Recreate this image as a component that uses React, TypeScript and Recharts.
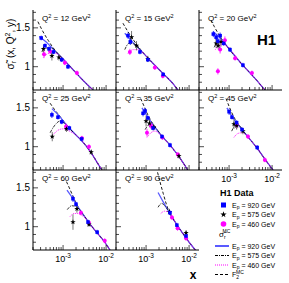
import React from "react";
import { ComposedChart, Line, Scatter, XAxis, YAxis, ErrorBar } from "recharts";

type Pt = [number, number, number];
type LP = [number, number];

const q2Values = [12, 15, 20, 25, 35, 45, 60, 90];

// H1 data, one list per Q2 bin: [x, sigma_r, error]
const data920: Pt[][] = [
  [[3.1e-4, 1.37, 0.03], [3.8e-4, 1.27, 0.03], [4.7e-4, 1.23, 0.03], [6e-4, 1.19, 0.03], [9.3e-4, 1.09, 0.03], [1.3e-3, 1.0, 0.03]],
  [[3.8e-4, 1.4, 0.04], [4.3e-4, 1.32, 0.04], [7.2e-4, 1.19, 0.03], [1.1e-3, 1.09, 0.03], [2.5e-3, 0.9, 0.03]],
  [[4.3e-4, 1.42, 0.04], [5e-4, 1.38, 0.04], [5.5e-4, 1.33, 0.04], [6.2e-4, 1.4, 0.04], [7.5e-4, 1.3, 0.03], [1.05e-3, 1.22, 0.03], [2.1e-3, 1.02, 0.03]],
  [[5.5e-4, 1.41, 0.04], [7.6e-4, 1.38, 0.03], [9.3e-4, 1.32, 0.03], [1.4e-3, 1.24, 0.03], [2.7e-3, 1.1, 0.03]],
  [[8.5e-4, 1.43, 0.04], [9.5e-4, 1.46, 0.04], [1.1e-3, 1.37, 0.03], [1.45e-3, 1.24, 0.03], [2.35e-3, 1.13, 0.03], [3.6e-3, 1.02, 0.03]],
  [[1e-3, 1.45, 0.04], [1.17e-3, 1.38, 0.03], [1.5e-3, 1.31, 0.03], [2e-3, 1.22, 0.03], [4.5e-3, 0.99, 0.03]],
  [[1.7e-3, 1.36, 0.04], [2e-3, 1.29, 0.03], [3.8e-3, 1.06, 0.03], [6.2e-3, 0.93, 0.03]],
  [[3.6e-3, 1.18, 0.03], [5.2e-3, 1.02, 0.03], [8.5e-3, 0.88, 0.03]],
];

const data575: Pt[][] = [
  [[3.5e-4, 1.23, 0.05], [5.5e-4, 1.14, 0.06], [8e-4, 1.12, 0.04]],
  [[4.6e-4, 1.38, 0.08], [6e-4, 1.27, 0.06], [1.1e-3, 1.1, 0.04]],
  [[5e-4, 1.3, 0.06], [5.6e-4, 1.27, 0.05], [6.5e-4, 1.32, 0.06]],
  [[5.6e-4, 1.13, 0.06], [1.2e-3, 1.23, 0.04], [4.5e-3, 0.93, 0.03]],
  [[1e-3, 1.33, 0.07], [1.2e-3, 1.3, 0.05], [1.5e-3, 1.25, 0.04], [5.8e-3, 0.88, 0.03]],
  [[1.3e-3, 1.29, 0.06], [1.5e-3, 1.27, 0.05], [2.1e-3, 1.2, 0.04]],
  [[1.7e-3, 1.06, 0.1], [2.1e-3, 1.23, 0.05], [4e-3, 1.03, 0.03]],
  [[3.5e-3, 1.19, 0.04], [8.5e-3, 0.92, 0.03]],
];

const data460: Pt[][] = [
  [[3.6e-4, 1.16, 0.05], [5e-4, 1.2, 0.04], [1.1e-3, 1.05, 0.03], [2.1e-3, 0.92, 0.03]],
  [[4.2e-4, 1.19, 0.04], [1.6e-3, 0.99, 0.03], [2.45e-3, 0.88, 0.03]],
  [[5.5e-4, 0.94, 0.04], [6.2e-4, 1.22, 0.05], [8e-4, 1.34, 0.05], [1.38e-3, 1.11, 0.03], [3.4e-3, 0.92, 0.03]],
  [[1.17e-3, 1.26, 0.04], [2.75e-3, 1.11, 0.03], [4e-3, 1.0, 0.03]],
  [[1.05e-3, 1.18, 0.05], [1.3e-3, 1.27, 0.04], [2.4e-3, 1.12, 0.03], [5.5e-3, 0.9, 0.03]],
  [[1.5e-3, 1.28, 0.05], [2.75e-3, 1.13, 0.03], [6.8e-3, 0.83, 0.03]],
  [[2.6e-3, 1.18, 0.03], [4e-3, 1.05, 0.03], [9.3e-3, 0.82, 0.03]],
  [[4e-3, 1.12, 0.03], [5.4e-3, 0.98, 0.03], [8.5e-3, 0.85, 0.03]],
];

// MC predictions: [x, sigma_r]
const mc920: LP[][] = [
  [[2.8e-4, 1.39], [4e-4, 1.32], [6e-4, 1.22], [1e-3, 1.1], [2e-3, 0.92], [3.5e-3, 0.78], [5e-3, 0.7]],
  [[3.2e-4, 1.43], [5e-4, 1.31], [7.5e-4, 1.21], [1.2e-3, 1.09], [2.5e-3, 0.91], [4.4e-3, 0.77], [5.5e-3, 0.7]],
  [[4.3e-4, 1.45], [6e-4, 1.38], [1e-3, 1.23], [2e-3, 1.03], [4e-3, 0.85], [6.8e-3, 0.7]],
  [[5.5e-4, 1.49], [8e-4, 1.4], [1.2e-3, 1.28], [2e-3, 1.15], [3e-3, 1.05], [4.5e-3, 0.92], [7e-3, 0.75], [8e-3, 0.7]],
  [[8e-4, 1.5], [1.1e-3, 1.38], [1.5e-3, 1.27], [2.3e-3, 1.14], [3.6e-3, 1.02], [5.5e-3, 0.89], [9.3e-3, 0.7]],
  [[8.9e-4, 1.5], [1.2e-3, 1.38], [1.6e-3, 1.29], [2.2e-3, 1.19], [3e-3, 1.1], [4.5e-3, 0.98], [6.8e-3, 0.84], [1.05e-2, 0.7]],
  [[1.23e-3, 1.47], [1.7e-3, 1.36], [2.2e-3, 1.26], [3e-3, 1.15], [4e-3, 1.05], [6e-3, 0.93], [9e-3, 0.81], [1.23e-2, 0.7]],
  [[1.9e-3, 1.44], [2.5e-3, 1.32], [3.5e-3, 1.18], [5e-3, 1.04], [7e-3, 0.92], [1e-2, 0.8], [1.4e-2, 0.7]],
];

const mc575: LP[][] = [
  [[3.2e-4, 1.19], [4e-4, 1.24], [5.5e-4, 1.24], [7.5e-4, 1.17], [1e-3, 1.1], [2e-3, 0.92], [3.5e-3, 0.78], [5e-3, 0.7]],
  [[3.2e-4, 1.22], [4e-4, 1.3], [5.5e-4, 1.29], [7.5e-4, 1.21], [1.2e-3, 1.09], [2.5e-3, 0.91], [4.4e-3, 0.77], [5.5e-3, 0.7]],
  [[4.5e-4, 1.25], [5.5e-4, 1.31], [7e-4, 1.32], [8.5e-4, 1.28], [1e-3, 1.23], [2e-3, 1.03], [4e-3, 0.85], [6.8e-3, 0.7]],
  [[5e-4, 1.18], [6.5e-4, 1.28], [8.5e-4, 1.33], [1.1e-3, 1.3], [1.5e-3, 1.22], [2e-3, 1.15], [3e-3, 1.05], [4.5e-3, 0.92], [7e-3, 0.75], [8e-3, 0.7]],
  [[9.5e-4, 1.22], [1.15e-3, 1.28], [1.4e-3, 1.29], [1.7e-3, 1.24], [2.3e-3, 1.14], [3.6e-3, 1.02], [5.5e-3, 0.89], [9.3e-3, 0.7]],
  [[1.15e-3, 1.2], [1.4e-3, 1.27], [1.7e-3, 1.27], [2.2e-3, 1.19], [3e-3, 1.1], [4.5e-3, 0.98], [6.8e-3, 0.84], [1.05e-2, 0.7]],
  [[1.25e-3, 1.22], [1.6e-3, 1.27], [2e-3, 1.26], [2.5e-3, 1.21], [3e-3, 1.15], [4e-3, 1.05], [6e-3, 0.93], [9e-3, 0.81], [1.23e-2, 0.7]],
  [[1.9e-3, 1.25], [2.3e-3, 1.3], [2.8e-3, 1.26], [3.3e-3, 1.21], [4e-3, 1.13], [5e-3, 1.04], [7e-3, 0.92], [1e-2, 0.8], [1.4e-2, 0.7]],
];

const mc460: LP[][] = [
  [[3.5e-4, 1.12], [4.5e-4, 1.17], [6e-4, 1.18], [8e-4, 1.15], [1e-3, 1.1], [2e-3, 0.92], [3.5e-3, 0.78], [5e-3, 0.7]],
  [[3.8e-4, 1.17], [5e-4, 1.22], [6.5e-4, 1.22], [8.5e-4, 1.18], [1.2e-3, 1.09], [2.5e-3, 0.91], [4.4e-3, 0.77], [5.5e-3, 0.7]],
  [[4.8e-4, 1.22], [6e-4, 1.28], [7.5e-4, 1.29], [9e-4, 1.26], [1.1e-3, 1.21], [2e-3, 1.03], [4e-3, 0.85], [6.8e-3, 0.7]],
  [[6e-4, 1.16], [7.5e-4, 1.21], [1e-3, 1.23], [1.4e-3, 1.2], [2e-3, 1.15], [3e-3, 1.05], [4.5e-3, 0.92], [7e-3, 0.75], [8e-3, 0.7]],
  [[1.05e-3, 1.12], [1.3e-3, 1.18], [1.6e-3, 1.2], [2e-3, 1.17], [2.5e-3, 1.11], [3.6e-3, 1.02], [5.5e-3, 0.89], [9.3e-3, 0.7]],
  [[1.3e-3, 1.12], [1.6e-3, 1.17], [2e-3, 1.18], [2.5e-3, 1.15], [3e-3, 1.1], [4.5e-3, 0.98], [6.8e-3, 0.84], [1.05e-2, 0.7]],
  [[1.45e-3, 1.13], [1.8e-3, 1.17], [2.2e-3, 1.17], [2.6e-3, 1.15], [3.2e-3, 1.12], [4e-3, 1.05], [6e-3, 0.93], [9e-3, 0.81], [1.23e-2, 0.7]],
  [[2.2e-3, 1.17], [2.7e-3, 1.2], [3.2e-3, 1.19], [3.8e-3, 1.15], [4.3e-3, 1.1], [5e-3, 1.04], [7e-3, 0.92], [1e-2, 0.8], [1.4e-2, 0.7]],
];

const f2mc: LP[][] = [
  [[2.6e-4, 1.58], [3.2e-4, 1.48], [4.5e-4, 1.34], [7e-4, 1.19], [1e-3, 1.1], [2e-3, 0.92], [3.5e-3, 0.78], [5e-3, 0.7]],
  [[2.9e-4, 1.56], [3.8e-4, 1.45], [5e-4, 1.35], [7.5e-4, 1.22], [1.2e-3, 1.09], [2.5e-3, 0.91], [4.4e-3, 0.77], [5.5e-3, 0.7]],
  [[3.8e-4, 1.6], [4.5e-4, 1.52], [6e-4, 1.4], [8e-4, 1.3], [1e-3, 1.23], [2e-3, 1.03], [4e-3, 0.85], [6.8e-3, 0.7]],
  [[5e-4, 1.56], [6.5e-4, 1.47], [8.5e-4, 1.39], [1.2e-3, 1.28], [2e-3, 1.15], [3e-3, 1.05], [4.5e-3, 0.92], [7e-3, 0.75], [8e-3, 0.7]],
  [[7.5e-4, 1.62], [9e-4, 1.52], [1.1e-3, 1.41], [1.5e-3, 1.28], [2.3e-3, 1.14], [3.6e-3, 1.02], [5.5e-3, 0.89], [9.3e-3, 0.7]],
  [[8.5e-4, 1.62], [1e-3, 1.52], [1.3e-3, 1.38], [1.7e-3, 1.28], [2.2e-3, 1.19], [3e-3, 1.1], [4.5e-3, 0.98], [6.8e-3, 0.84], [1.05e-2, 0.7]],
  [[1.2e-3, 1.58], [1.45e-3, 1.48], [1.8e-3, 1.36], [2.2e-3, 1.26], [3e-3, 1.15], [4e-3, 1.05], [6e-3, 0.93], [9e-3, 0.81], [1.23e-2, 0.7]],
  [[1.85e-3, 1.7], [2.1e-3, 1.58], [2.5e-3, 1.43], [3e-3, 1.28], [3.5e-3, 1.18], [5e-3, 1.04], [7e-3, 0.92], [1e-2, 0.8], [1.4e-2, 0.7]],
];

const xTicks = [2e-4, 3e-4, 4e-4, 5e-4, 6e-4, 7e-4, 8e-4, 9e-4, 1e-3, 2e-3, 3e-3, 4e-3, 5e-3, 6e-3, 7e-3, 8e-3, 9e-3, 1e-2];
const yTicks = [0.8, 0.9, 1, 1.1, 1.2, 1.3, 1.4, 1.5, 1.6, 1.7];
const X_DOMAIN: [number, number] = [2e-4, 1.7e-2];
const Y_DOMAIN: [number, number] = [0.7, 1.73];

const colLeft = [33, 116, 199];
const rowTop = [10, 90, 170];
const PW = 83;
const PH = 80;
const AXW = 24;
const AXH = 16;

const FONT = "Liberation Sans, Arial, sans-serif";
const BLUE = "#0000ff";
const BLUE_LINE = "#5a5aff";
const MAGENTA = "#ff00ff";

const toRows = (pts: Pt[]) => pts.map(([x, y, err]) => ({ x, y, err }));
const toLine = (pts: LP[]) => pts.map(([x, y]) => ({ x, y }));

function YTick(props: any) {
  const { x, y, payload, side, labels } = props;
  const v = payload.value;
  const major = Math.abs(v - 1) < 1e-6 || Math.abs(v - 1.5) < 1e-6;
  const len = major ? 5 : 3;
  const dir = side === "left" ? 1 : -1;
  return (
    <g>
      <line x1={x} x2={x + dir * len} y1={y} y2={y} stroke="#000" strokeWidth={0.7} />
      {labels && major && (
        <text x={x - 3} y={y + 3.5} textAnchor="end" fontSize={10} fontFamily={FONT}>
          {Math.abs(v - 1) < 1e-6 ? "1" : "1.5"}
        </text>
      )}
    </g>
  );
}

function XTick(props: any) {
  const { x, y, payload, side, labels } = props;
  const v = payload.value;
  const lg = Math.log10(v);
  const major = Math.abs(lg - Math.round(lg)) < 1e-6;
  const len = major ? 5 : 3;
  const dir = side === "bottom" ? -1 : 1;
  return (
    <g>
      <line x1={x} x2={x} y1={y} y2={y + dir * len} stroke="#000" strokeWidth={0.7} />
      {labels && major && (
        <text x={x} y={y + 12} textAnchor="middle" fontSize={9} fontFamily={FONT}>
          10
          <tspan dy={-4} fontSize={6.5}>{Math.round(lg)}</tspan>
        </text>
      )}
    </g>
  );
}

function Star(props: any) {
  const { cx, cy, r0 } = props;
  const big = r0 || 2.8;
  const pts: string[] = [];
  for (let i = 0; i < 10; i++) {
    const r = i % 2 === 0 ? big : big * 0.4;
    const a = -Math.PI / 2 + (i * Math.PI) / 5;
    pts.push(`${cx + r * Math.cos(a)},${cy + r * Math.sin(a)}`);
  }
  return <polygon points={pts.join(" ")} fill="#000" />;
}

const Square = (p: any) => <rect x={p.cx - 1.75} y={p.cy - 1.75} width={3.5} height={3.5} fill={BLUE} />;
const Dot = (p: any) => <circle cx={p.cx} cy={p.cy} r={2} fill={MAGENTA} />;

function Panel({ i }: { i: number }) {
  const col = i % 3;
  const row = Math.floor(i / 3);
  const yLabels = col === 0;
  const xLabels = row === 2 || i === 5;
  return (
    <div style={{ position: "absolute", left: colLeft[col] - AXW, top: rowTop[row] }}>
      <ComposedChart width={PW + AXW} height={PH + AXH} margin={{ top: 0, right: 0, bottom: 0, left: 0 }}>
        <XAxis
          dataKey="x"
          type="number"
          scale="log"
          domain={X_DOMAIN}
          allowDataOverflow
          ticks={xTicks}
          interval={0}
          height={AXH}
          tickSize={0}
          tickMargin={0}
          tickLine={false}
          axisLine={{ stroke: "#000" }}
          tick={<XTick side="bottom" labels={xLabels} />}
        />
        <XAxis
          xAxisId="top"
          orientation="top"
          type="number"
          scale="log"
          domain={X_DOMAIN}
          allowDataOverflow
          ticks={xTicks}
          interval={0}
          height={0}
          tickSize={0}
          tickMargin={0}
          tickLine={false}
          axisLine={{ stroke: "#000" }}
          tick={<XTick side="top" labels={false} />}
        />
        <YAxis
          dataKey="y"
          type="number"
          domain={Y_DOMAIN}
          allowDataOverflow
          ticks={yTicks}
          interval={0}
          width={AXW}
          tickSize={0}
          tickMargin={0}
          tickLine={false}
          axisLine={{ stroke: "#000" }}
          tick={<YTick side="left" labels={yLabels} />}
        />
        <YAxis
          yAxisId="right"
          orientation="right"
          type="number"
          domain={Y_DOMAIN}
          allowDataOverflow
          ticks={yTicks}
          interval={0}
          width={0}
          tickSize={0}
          tickMargin={0}
          tickLine={false}
          axisLine={{ stroke: "#000" }}
          tick={<YTick side="right" labels={false} />}
        />
        <Line data={toLine(f2mc[i])} dataKey="y" type="monotone" stroke="#000" strokeWidth={0.9} strokeDasharray="3 2" dot={false} isAnimationActive={false} />
        <Line data={toLine(mc920[i])} dataKey="y" type="monotone" stroke={BLUE_LINE} strokeWidth={1.3} dot={false} isAnimationActive={false} />
        <Line data={toLine(mc575[i])} dataKey="y" type="monotone" stroke="#000" strokeWidth={0.8} strokeDasharray="3 1 1 1" dot={false} isAnimationActive={false} />
        <Line data={toLine(mc460[i])} dataKey="y" type="monotone" stroke={MAGENTA} strokeWidth={0.9} strokeDasharray="1 1" dot={false} isAnimationActive={false} />
        <Scatter data={toRows(data460[i])} dataKey="y" shape={Dot} isAnimationActive={false}>
          <ErrorBar dataKey="err" direction="y" width={0} stroke={MAGENTA} strokeWidth={0.8} />
        </Scatter>
        <Scatter data={toRows(data575[i])} dataKey="y" shape={Star} isAnimationActive={false}>
          <ErrorBar dataKey="err" direction="y" width={0} stroke="#555" strokeWidth={0.8} />
        </Scatter>
        <Scatter data={toRows(data920[i])} dataKey="y" shape={Square} isAnimationActive={false}>
          <ErrorBar dataKey="err" direction="y" width={0} stroke={BLUE} strokeWidth={0.8} />
        </Scatter>
      </ComposedChart>
    </div>
  );
}

function Overlay() {
  const legendMarkers = ["920", "575", "460"];
  const lineEntries = [
    { label: "920", stroke: BLUE_LINE, dash: undefined as string | undefined, w: 2 },
    { label: "575", stroke: "#000", dash: "3 1 1 1", w: 1 },
    { label: "460", stroke: MAGENTA, dash: "1 1", w: 1.2 },
  ];
  return (
    <svg width={289} height={283} style={{ position: "absolute", left: 0, top: 0, pointerEvents: "none" }} fontFamily={FONT}>
      <text transform="translate(14,44) rotate(-90)" textAnchor="middle" fontSize={10}>
        σ̃<tspan fontSize={7} dy={2}>r</tspan>
        <tspan dy={-2}> (x, Q</tspan>
        <tspan fontSize={7} dy={-4}>2</tspan>
        <tspan dy={4}>, y)</tspan>
      </text>
      {q2Values.map((q, i) => {
        const col = i % 3;
        const row = Math.floor(i / 3);
        return (
          <text key={q} x={colLeft[col] + 9} y={rowTop[row] + 11} fontSize={8}>
            Q<tspan fontSize={5.5} dy={-3}>2</tspan>
            <tspan dy={3}> = {q} GeV</tspan>
            <tspan fontSize={5.5} dy={-3}>2</tspan>
          </text>
        );
      })}
      <text x={257} y={45} fontSize={15} fontWeight="bold">H1</text>
      <text x={193} y={279} fontSize={12} fontWeight="bold" textAnchor="middle">x</text>
      <text x={220} y={196} fontSize={9} fontWeight="bold">H1 Data</text>
      {legendMarkers.map((m, k) => {
        const cy = 205 + k * 9.5;
        return (
          <g key={m}>
            {k === 0 && <rect x={221} y={cy - 2.5} width={5} height={5} fill={BLUE} />}
            {k === 1 && <Star cx={223.5} cy={cy} r0={3.3} />}
            {k === 2 && <circle cx={223.5} cy={cy} r={2.8} fill={MAGENTA} />}
            <text x={232} y={cy + 2.5} fontSize={7}>
              E<tspan fontSize={5} dy={1.5}>p</tspan>
              <tspan dy={-1.5}> = {m} GeV</tspan>
            </text>
          </g>
        );
      })}
      <text x={219} y={237} fontSize={8}>
        σ̃<tspan fontSize={5} dy={2}>r</tspan>
        <tspan fontSize={5} dy={-6} dx={-3}>MC</tspan>
      </text>
      {lineEntries.map((e, k) => {
        const cy = 246 + k * 9.5;
        return (
          <g key={e.label}>
            <line x1={215} x2={229} y1={cy} y2={cy} stroke={e.stroke} strokeWidth={e.w} strokeDasharray={e.dash} />
            <text x={232} y={cy + 2.5} fontSize={7}>
              E<tspan fontSize={5} dy={1.5}>p</tspan>
              <tspan dy={-1.5}> = {e.label} GeV</tspan>
            </text>
          </g>
        );
      })}
      <line x1={215} x2={229} y1={274.5} y2={274.5} stroke="#000" strokeWidth={1} strokeDasharray="3 2" />
      <text x={232} y={277} fontSize={7}>
        F<tspan fontSize={5} dy={1.5}>2</tspan>
        <tspan fontSize={5} dy={-5} dx={-3}>MC</tspan>
      </text>
    </svg>
  );
}

export default function App() {
  return (
    <div style={{ position: "absolute", left: 0, top: 0, width: 289, height: 283, background: "#fff", overflow: "hidden" }}>
      {q2Values.map((q, i) => (
        <Panel key={q} i={i} />
      ))}
      <Overlay />
    </div>
  );
}
